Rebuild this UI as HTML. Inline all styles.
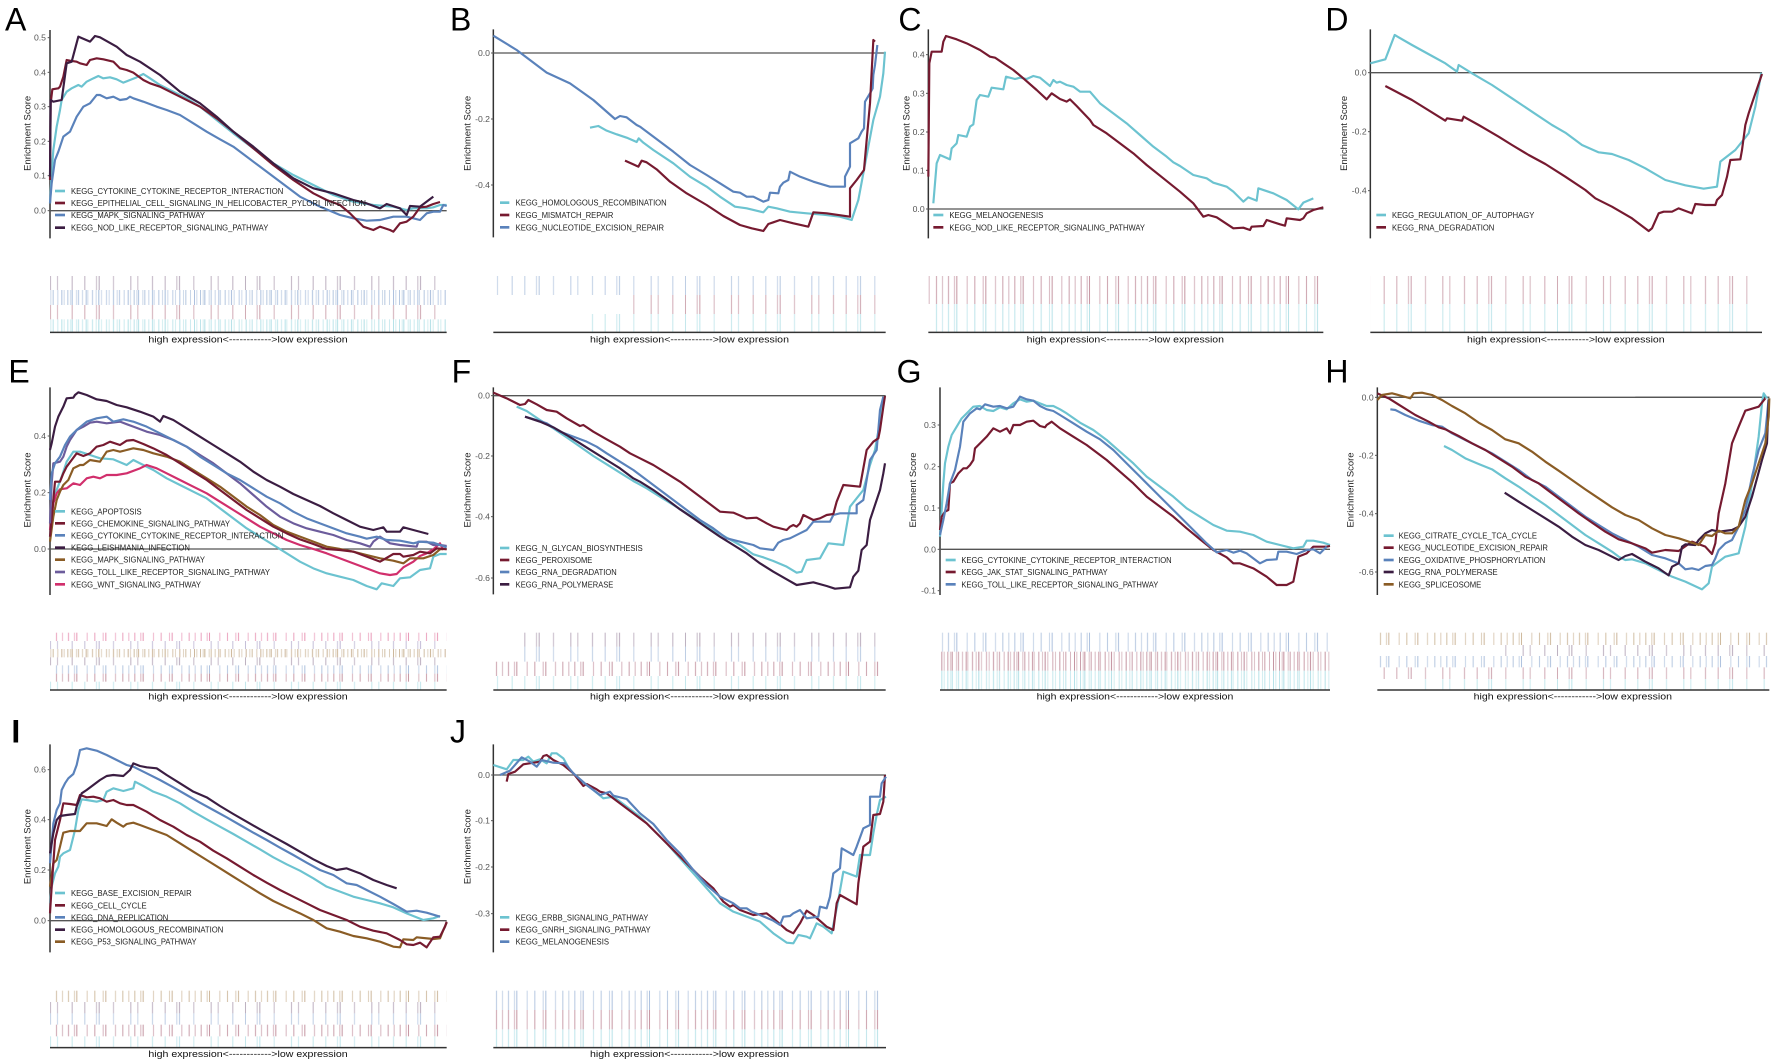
<!DOCTYPE html>
<html><head><meta charset="utf-8"><title>GSEA panels</title>
<style>
html,body{margin:0;padding:0;background:#fff;}
svg{display:block;}
.c{fill:none;stroke-width:6.5;stroke-linejoin:round;}
.ax{stroke:#333;stroke-width:4.5;fill:none;}
.zl{stroke:#555;stroke-width:4;fill:none;}
.tm{stroke:#555;stroke-width:3;}
.tk{font-family:"Liberation Sans",sans-serif;font-size:26px;fill:#555;text-anchor:end;}
.lg{font-family:"Liberation Sans",sans-serif;font-size:25px;fill:#222;}
.yl{font-family:"Liberation Sans",sans-serif;font-size:28px;fill:#222;text-anchor:middle;}
.xl{font-family:"Liberation Sans",sans-serif;font-size:28px;fill:#111;}
.pl{font-family:"Liberation Sans",sans-serif;font-size:96px;fill:#000;}
.sw{stroke-width:8;}
</style></head>
<body>
<svg width="1772" height="1061" viewBox="0 0 1772 1061" xmlns="http://www.w3.org/2000/svg" xmlns:xlink="http://www.w3.org/1999/xlink">
<defs>
<g id="tD" fill="currentColor">
<rect x="3" width="3" height="10" opacity=".45"/><rect x="11" width="3" height="10" opacity=".3"/><rect x="16" width="3" height="10" opacity=".55"/><rect x="29" width="3" height="10" opacity=".3"/><rect x="35" width="3" height="10" opacity=".45"/><rect x="47" width="3" height="10" opacity=".35"/><rect x="58" width="3" height="10" opacity=".5"/><rect x="63" width="3" height="10" opacity=".3"/><rect x="77" width="3" height="10" opacity=".45"/><rect x="88" width="3" height="10" opacity=".3"/><rect x="96" width="3" height="10" opacity=".55"/><rect x="104" width="3" height="10" opacity=".3"/><rect x="119" width="3" height="10" opacity=".4"/><rect x="127" width="3" height="10" opacity=".3"/><rect x="140" width="3" height="10" opacity=".5"/><rect x="151" width="3" height="10" opacity=".3"/><rect x="158" width="3" height="10" opacity=".45"/><rect x="172" width="3" height="10" opacity=".35"/><rect x="184" width="3" height="10" opacity=".5"/><rect x="191" width="3" height="10" opacity=".3"/>
</g>
<g id="tM" fill="currentColor">
<rect x="5" width="3" height="10" opacity=".45"/><rect x="23" width="3" height="10" opacity=".35"/><rect x="30" width="3" height="10" opacity=".5"/><rect x="61" width="3" height="10" opacity=".35"/><rect x="84" width="3" height="10" opacity=".45"/><rect x="109" width="3" height="10" opacity=".35"/><rect x="117" width="3" height="10" opacity=".5"/><rect x="146" width="3" height="10" opacity=".35"/><rect x="168" width="3" height="10" opacity=".45"/><rect x="186" width="3" height="10" opacity=".35"/>
</g>
<g id="tS" fill="currentColor">
<rect x="12" width="3" height="10" opacity=".4"/><rect x="47" width="3" height="10" opacity=".35"/><rect x="55" width="3" height="10" opacity=".45"/><rect x="98" width="3" height="10" opacity=".35"/><rect x="150" width="3" height="10" opacity=".4"/><rect x="171" width="3" height="10" opacity=".35"/><rect x="215" width="3" height="10" opacity=".4"/>
</g>
<pattern id="cyd" width="199" height="10" patternUnits="userSpaceOnUse" color="#6cc3d0"><use xlink:href="#tD" href="#tD"/></pattern>
<pattern id="cym" width="199" height="10" patternUnits="userSpaceOnUse" color="#6cc3d0"><use xlink:href="#tM" href="#tM"/></pattern>
<pattern id="cys" width="241" height="10" patternUnits="userSpaceOnUse" color="#6cc3d0"><use xlink:href="#tS" href="#tS"/></pattern>
<pattern id="rdd" width="199" height="10" patternUnits="userSpaceOnUse" color="#8a2a44"><use xlink:href="#tD" href="#tD"/></pattern>
<pattern id="rdm" width="199" height="10" patternUnits="userSpaceOnUse" color="#8a2a44"><use xlink:href="#tM" href="#tM"/></pattern>
<pattern id="rds" width="241" height="10" patternUnits="userSpaceOnUse" color="#8a2a44"><use xlink:href="#tS" href="#tS"/></pattern>
<pattern id="bld" width="199" height="10" patternUnits="userSpaceOnUse" color="#5a82bb"><use xlink:href="#tD" href="#tD"/></pattern>
<pattern id="blm" width="199" height="10" patternUnits="userSpaceOnUse" color="#5a82bb"><use xlink:href="#tM" href="#tM"/></pattern>
<pattern id="bls" width="241" height="10" patternUnits="userSpaceOnUse" color="#5a82bb"><use xlink:href="#tS" href="#tS"/></pattern>
<pattern id="dpm" width="199" height="10" patternUnits="userSpaceOnUse" color="#5b3a62"><use xlink:href="#tM" href="#tM"/></pattern>
<pattern id="dps" width="241" height="10" patternUnits="userSpaceOnUse" color="#5b3a62"><use xlink:href="#tS" href="#tS"/></pattern>
<pattern id="brm" width="199" height="10" patternUnits="userSpaceOnUse" color="#9a6e35"><use xlink:href="#tM" href="#tM"/></pattern>
<pattern id="brd" width="199" height="10" patternUnits="userSpaceOnUse" color="#9a6e35"><use xlink:href="#tD" href="#tD"/></pattern>
<pattern id="pus" width="241" height="10" patternUnits="userSpaceOnUse" color="#6c5c9c"><use xlink:href="#tS" href="#tS"/></pattern>
<pattern id="pkm" width="199" height="10" patternUnits="userSpaceOnUse" color="#d12f6c"><use xlink:href="#tM" href="#tM"/></pattern>
</defs>
<rect width="1772" height="1061" fill="#fff"/>

<!-- ================= A ================= -->
<g transform="translate(0 0) scale(0.333333)">
<text class="pl" x="15" y="92">A</text>
<rect x="150" y="828" width="1190" height="42" fill="url(#dps)"/>
<rect x="150" y="870" width="1190" height="45" fill="url(#bld)"/>
<rect x="150" y="915" width="1190" height="43" fill="url(#rds)"/>
<rect x="150" y="958" width="1190" height="39" fill="url(#cyd)"/>
<line class="ax" x1="150" y1="997" x2="1340" y2="997"/>
<text class="xl" x="445" y="1028" textLength="598" lengthAdjust="spacingAndGlyphs">high expression&lt;------------&gt;low expression</text>
<line class="ax" x1="150" y1="90" x2="150" y2="715"/>
<line class="zl" x1="150" y1="632" x2="1340" y2="632"/>
<g class="tm"><line x1="143" y1="113" x2="150" y2="113"/><line x1="143" y1="217" x2="150" y2="217"/><line x1="143" y1="320" x2="150" y2="320"/><line x1="143" y1="424" x2="150" y2="424"/><line x1="143" y1="527" x2="150" y2="527"/><line x1="143" y1="632" x2="150" y2="632"/></g>
<text class="tk" x="138" y="122">0.5</text><text class="tk" x="138" y="226">0.4</text><text class="tk" x="138" y="329">0.3</text><text class="tk" x="138" y="433">0.2</text><text class="tk" x="138" y="536">0.1</text><text class="tk" x="138" y="641">0.0</text>
<text class="yl" transform="translate(92 400) rotate(-90)" textLength="225" lengthAdjust="spacingAndGlyphs">Enrichment Score</text>
<polyline class="c" stroke="#6cc3d0" points="150,610 155,520 160,450 170,380 180,330 185,300 200,275 215,265 235,255 245,260 260,245 280,235 295,228 310,235 330,232 350,238 370,248 390,240 410,232 430,222 450,235 480,255 520,275 560,295 600,320 650,360 700,400 760,445 820,490 880,525 940,555 1000,585 1060,605 1120,615 1180,620 1220,630 1240,625 1280,625 1300,622 1320,615 1340,615"/>
<polyline class="c" stroke="#5a82bb" points="150,610 155,550 165,480 175,455 190,410 210,395 230,350 250,320 270,310 290,285 300,285 320,295 340,290 360,300 380,297 390,290 400,295 430,305 470,320 500,330 540,345 580,370 620,395 660,418 700,440 740,470 780,500 820,530 860,560 900,590 960,620 1020,645 1060,655 1100,662 1140,660 1180,650 1220,650 1260,660 1280,640 1300,635 1320,635 1330,615 1340,618"/>
<polyline class="c" stroke="#761a30" points="150,540 152,310 157,268 175,265 180,260 190,230 200,180 210,182 230,185 240,190 260,195 270,180 290,175 310,178 340,185 360,205 380,210 400,218 430,240 450,250 480,260 510,275 540,290 570,305 600,320 650,355 700,395 760,445 820,495 880,540 940,580 980,600 1020,615 1050,640 1090,680 1120,690 1140,680 1170,690 1180,695 1200,670 1220,665 1240,650 1260,622 1280,620 1300,612 1320,606"/>
<polyline class="c" stroke="#3b1d42" points="150,530 152,300 160,305 185,300 200,190 215,185 235,110 270,125 285,108 300,112 350,140 380,165 420,185 480,225 540,275 600,310 650,350 700,395 760,440 820,490 880,535 940,565 1000,580 1060,600 1100,610 1140,625 1160,612 1200,625 1220,645 1230,618 1260,620 1280,605 1300,590"/>
<g class="sw"><line x1="165" y1="573" x2="195" y2="573" stroke="#6cc3d0"/><line x1="165" y1="609" x2="195" y2="609" stroke="#761a30"/><line x1="165" y1="645" x2="195" y2="645" stroke="#5a82bb"/><line x1="165" y1="683" x2="195" y2="683" stroke="#3b1d42"/></g>
<text class="lg" x="213" y="582" textLength="637" lengthAdjust="spacingAndGlyphs">KEGG_CYTOKINE_CYTOKINE_RECEPTOR_INTERACTION</text>
<text class="lg" x="213" y="618" textLength="885" lengthAdjust="spacingAndGlyphs">KEGG_EPITHELIAL_CELL_SIGNALING_IN_HELICOBACTER_PYLORI_INFECTION</text>
<text class="lg" x="213" y="654" textLength="402" lengthAdjust="spacingAndGlyphs">KEGG_MAPK_SIGNALING_PATHWAY</text>
<text class="lg" x="213" y="692" textLength="592" lengthAdjust="spacingAndGlyphs">KEGG_NOD_LIKE_RECEPTOR_SIGNALING_PATHWAY</text>
</g>

<!-- ================= B ================= -->
<g transform="translate(440 0) scale(0.333333)">
<text class="pl" x="30" y="92">B</text>
<rect x="160" y="828" width="1177" height="57" fill="url(#bls)"/>
<rect x="550" y="885" width="787" height="57" fill="url(#rds)"/>
<rect x="445" y="942" width="892" height="55" fill="url(#cys)"/>
<line class="ax" x1="160" y1="997" x2="1337" y2="997"/>
<text class="xl" x="450" y="1028" textLength="597" lengthAdjust="spacingAndGlyphs">high expression&lt;------------&gt;low expression</text>
<line class="ax" x1="160" y1="88" x2="160" y2="712"/>
<line class="zl" x1="160" y1="159" x2="1337" y2="159"/>
<g class="tm"><line x1="153" y1="159" x2="160" y2="159"/><line x1="153" y1="357" x2="160" y2="357"/><line x1="153" y1="555" x2="160" y2="555"/></g>
<text class="tk" x="150" y="168">0.0</text><text class="tk" x="150" y="366">-0.2</text><text class="tk" x="150" y="564">-0.4</text>
<text class="yl" transform="translate(92 400) rotate(-90)" textLength="225" lengthAdjust="spacingAndGlyphs">Enrichment Score</text>
<polyline class="c" stroke="#5a82bb" points="160,107 230,150 320,218 390,250 460,300 525,357 540,348 560,352 590,375 600,380 640,410 700,455 750,495 800,525 840,550 880,575 900,578 920,590 940,590 970,605 985,600 990,578 1015,580 1020,560 1030,548 1045,540 1050,515 1080,530 1120,545 1170,560 1215,560 1215,530 1230,500 1230,430 1255,415 1265,395 1272,385 1275,305 1290,280 1298,265 1300,225 1305,195 1312,135"/>
<polyline class="c" stroke="#6cc3d0" points="450,383 475,378 500,392 530,403 560,413 590,426 596,415 610,428 640,450 700,490 750,530 800,560 840,590 885,620 920,625 970,637 985,620 1010,625 1050,635 1100,640 1150,644 1200,650 1235,660 1255,600 1270,520 1285,440 1300,360 1320,290 1330,220 1335,155"/>
<polyline class="c" stroke="#761a30" points="555,482 595,500 605,482 620,487 650,508 690,545 740,580 800,615 850,648 900,675 935,685 970,693 985,672 1000,667 1020,660 1060,670 1105,680 1120,637 1160,640 1230,650 1230,565 1250,540 1272,510 1280,420 1290,310 1300,120 1305,125"/>
<g class="sw"><line x1="180" y1="608" x2="208" y2="608" stroke="#6cc3d0"/><line x1="180" y1="645" x2="208" y2="645" stroke="#761a30"/><line x1="180" y1="682" x2="208" y2="682" stroke="#5a82bb"/></g>
<text class="lg" x="227" y="617" textLength="453" lengthAdjust="spacingAndGlyphs">KEGG_HOMOLOGOUS_RECOMBINATION</text>
<text class="lg" x="227" y="654" textLength="293" lengthAdjust="spacingAndGlyphs">KEGG_MISMATCH_REPAIR</text>
<text class="lg" x="227" y="691" textLength="445" lengthAdjust="spacingAndGlyphs">KEGG_NUCLEOTIDE_EXCISION_REPAIR</text>
</g>

<!-- ================= C ================= -->
<g transform="translate(880 0) scale(0.333333)">
<text class="pl" x="55" y="92">C</text>
<rect x="145" y="828" width="1185" height="84" fill="url(#rdm)"/>
<rect x="160" y="912" width="1170" height="85" fill="url(#cym)"/>
<line class="ax" x1="145" y1="997" x2="1330" y2="997"/>
<text class="xl" x="440" y="1028" textLength="592" lengthAdjust="spacingAndGlyphs">high expression&lt;------------&gt;low expression</text>
<line class="ax" x1="145" y1="88" x2="145" y2="715"/>
<line class="zl" x1="145" y1="627" x2="1330" y2="627"/>
<g class="tm"><line x1="138" y1="164" x2="145" y2="164"/><line x1="138" y1="280" x2="145" y2="280"/><line x1="138" y1="396" x2="145" y2="396"/><line x1="138" y1="511" x2="145" y2="511"/><line x1="138" y1="627" x2="145" y2="627"/></g>
<text class="tk" x="134" y="173">0.4</text><text class="tk" x="134" y="289">0.3</text><text class="tk" x="134" y="405">0.2</text><text class="tk" x="134" y="520">0.1</text><text class="tk" x="134" y="636">0.0</text>
<text class="yl" transform="translate(88 400) rotate(-90)" textLength="225" lengthAdjust="spacingAndGlyphs">Enrichment Score</text>
<polyline class="c" stroke="#6cc3d0" points="160,610 165,550 170,490 180,465 210,478 215,445 230,430 235,405 260,410 270,380 280,373 290,300 300,285 325,290 335,263 370,268 378,230 405,237 420,233 440,237 460,228 480,233 510,258 520,240 530,248 540,245 560,255 580,260 600,275 630,275 660,310 700,340 740,370 780,405 820,440 860,470 880,487 900,498 940,525 980,535 1000,548 1040,560 1060,575 1090,605 1105,592 1130,602 1135,565 1180,580 1220,600 1255,628 1270,608 1300,595"/>
<polyline class="c" stroke="#761a30" points="145,530 148,190 155,155 185,155 190,125 198,108 230,118 260,130 300,150 330,170 345,173 370,190 400,210 430,235 470,270 500,298 515,280 540,297 560,305 570,298 590,318 630,360 640,375 680,400 720,430 760,460 800,495 850,535 900,575 940,610 970,650 985,645 1010,652 1060,685 1090,683 1110,690 1115,680 1150,678 1160,660 1200,673 1215,677 1220,655 1260,660 1270,655 1280,640 1300,630 1330,622"/>
<g class="sw"><line x1="160" y1="645" x2="190" y2="645" stroke="#6cc3d0"/><line x1="160" y1="682" x2="190" y2="682" stroke="#761a30"/></g>
<text class="lg" x="208" y="654" textLength="282" lengthAdjust="spacingAndGlyphs">KEGG_MELANOGENESIS</text>
<text class="lg" x="208" y="691" textLength="587" lengthAdjust="spacingAndGlyphs">KEGG_NOD_LIKE_RECEPTOR_SIGNALING_PATHWAY</text>
</g>

<!-- ================= D ================= -->
<g transform="translate(1312 0) scale(0.333333)">
<text class="pl" x="40" y="92">D</text>
<rect x="175" y="828" width="1175" height="84" fill="url(#rds)"/>
<rect x="175" y="912" width="1175" height="85" fill="url(#cys)"/>
<line class="ax" x1="175" y1="997" x2="1350" y2="997"/>
<text class="xl" x="465" y="1028" textLength="593" lengthAdjust="spacingAndGlyphs">high expression&lt;------------&gt;low expression</text>
<line class="ax" x1="175" y1="88" x2="175" y2="715"/>
<line class="zl" x1="175" y1="218" x2="1350" y2="218"/>
<g class="tm"><line x1="168" y1="218" x2="175" y2="218"/><line x1="168" y1="395" x2="175" y2="395"/><line x1="168" y1="572" x2="175" y2="572"/></g>
<text class="tk" x="164" y="227">0.0</text><text class="tk" x="164" y="404">-0.2</text><text class="tk" x="164" y="581">-0.4</text>
<text class="yl" transform="translate(105 400) rotate(-90)" textLength="225" lengthAdjust="spacingAndGlyphs">Enrichment Score</text>
<polyline class="c" stroke="#6cc3d0" points="175,190 220,178 248,105 300,135 360,168 400,190 435,215 440,195 480,220 540,255 600,295 660,335 720,375 760,398 810,435 860,457 900,462 950,480 1000,505 1060,540 1120,556 1175,566 1215,560 1225,485 1270,450 1310,400 1330,320 1348,218"/>
<polyline class="c" stroke="#761a30" points="220,258 300,300 400,362 405,355 450,362 455,350 500,375 560,410 600,435 650,465 700,492 760,530 820,570 850,595 870,605 900,620 960,655 1010,693 1020,685 1040,640 1055,635 1080,635 1100,625 1140,640 1150,612 1180,615 1210,615 1215,600 1230,585 1245,530 1255,480 1285,478 1290,450 1300,375 1310,340 1320,310 1350,222"/>
<g class="sw"><line x1="193" y1="645" x2="222" y2="645" stroke="#6cc3d0"/><line x1="193" y1="682" x2="222" y2="682" stroke="#761a30"/></g>
<text class="lg" x="240" y="654" textLength="427" lengthAdjust="spacingAndGlyphs">KEGG_REGULATION_OF_AUTOPHAGY</text>
<text class="lg" x="240" y="691" textLength="307" lengthAdjust="spacingAndGlyphs">KEGG_RNA_DEGRADATION</text>
</g>

<!-- ================= E ================= -->
<g transform="translate(0 350) scale(0.333333)">
<text class="pl" x="25" y="97">E</text>
<rect x="150" y="848" width="1190" height="25" fill="url(#pkm)"/>
<rect x="150" y="873" width="1190" height="24" fill="url(#pus)"/>
<rect x="150" y="897" width="1190" height="25" fill="url(#brd)"/>
<rect x="150" y="922" width="1190" height="24" fill="url(#dps)"/>
<rect x="150" y="946" width="1190" height="25" fill="url(#blm)"/>
<rect x="150" y="971" width="1190" height="24" fill="url(#rdm)"/>
<rect x="150" y="995" width="1190" height="25" fill="url(#cys)"/>
<line class="ax" x1="150" y1="1020" x2="1340" y2="1020"/>
<text class="xl" x="445" y="1049" textLength="598" lengthAdjust="spacingAndGlyphs">high expression&lt;------------&gt;low expression</text>
<line class="ax" x1="150" y1="112" x2="150" y2="735"/>
<line class="zl" x1="150" y1="597" x2="1340" y2="597"/>
<g class="tm"><line x1="143" y1="258" x2="150" y2="258"/><line x1="143" y1="428" x2="150" y2="428"/><line x1="143" y1="597" x2="150" y2="597"/></g>
<text class="tk" x="138" y="267">0.4</text><text class="tk" x="138" y="437">0.2</text><text class="tk" x="138" y="606">0.0</text>
<text class="yl" transform="translate(92 420) rotate(-90)" textLength="225" lengthAdjust="spacingAndGlyphs">Enrichment Score</text>
<polyline class="c" stroke="#6cc3d0" points="150,560 160,450 170,420 185,380 200,335 220,305 240,305 270,315 300,325 340,328 380,345 400,330 430,345 460,360 500,385 540,405 580,425 620,445 660,475 700,505 740,535 780,560 820,585 860,610 900,635 940,655 980,670 1020,680 1060,690 1100,708 1130,718 1145,700 1180,708 1200,685 1230,682 1260,660 1290,655 1300,620 1320,612 1340,612"/>
<polyline class="c" stroke="#d12f6c" points="150,540 160,460 170,430 180,418 200,415 220,400 240,405 260,385 280,380 300,385 320,375 350,375 380,370 420,355 440,345 470,355 500,370 540,390 580,410 620,430 660,455 700,480 740,505 780,530 820,550 860,570 900,585 940,597 980,610 1020,625 1060,640 1100,655 1140,670 1170,675 1190,672 1210,652 1240,635 1260,618 1280,610 1300,598 1320,580 1330,600"/>
<polyline class="c" stroke="#8a5c25" points="150,575 160,500 170,450 180,425 190,405 205,390 220,355 240,345 250,345 270,330 300,335 320,305 340,300 360,305 380,300 400,295 430,300 460,310 500,320 540,335 580,360 620,385 660,410 700,440 740,470 780,495 820,525 860,545 900,560 940,575 980,590 1020,597 1060,605 1100,615 1140,625 1180,632 1210,640 1230,625 1270,625 1300,615 1320,598 1340,596"/>
<polyline class="c" stroke="#761a30" points="150,560 160,450 165,395 180,395 190,370 200,350 215,330 230,310 250,318 270,310 290,290 310,285 330,275 360,285 380,272 400,270 430,282 460,295 500,315 540,340 580,365 620,390 660,420 700,450 740,480 780,505 820,530 860,550 900,568 940,582 980,597 1020,600 1060,605 1100,620 1140,635 1180,612 1200,612 1210,620 1240,615 1260,605 1290,610 1310,595 1340,598"/>
<polyline class="c" stroke="#6c5c9c" points="150,520 155,400 160,340 180,335 190,320 200,290 210,270 230,240 250,230 270,218 290,215 320,220 360,215 400,230 440,245 480,255 520,270 560,290 600,315 640,340 680,370 720,400 760,435 800,470 840,500 880,520 920,535 960,545 1000,555 1040,570 1080,580 1110,590 1120,575 1140,560 1170,580 1200,585 1250,590 1255,575 1280,575 1300,585 1320,585 1340,588"/>
<polyline class="c" stroke="#5a82bb" points="150,450 155,370 165,340 180,320 195,285 210,260 230,240 260,215 290,205 320,200 340,215 370,208 400,215 440,230 480,250 520,270 560,290 600,320 640,345 680,370 720,390 760,415 800,440 840,460 880,485 920,505 960,520 1000,535 1040,550 1080,560 1100,566 1130,560 1160,570 1200,572 1240,580 1260,575 1300,578 1340,592"/>
<polyline class="c" stroke="#3b1d42" points="150,300 155,280 165,230 175,200 190,170 200,145 220,143 225,135 235,127 260,135 290,148 320,153 350,165 380,172 420,185 460,200 480,215 490,198 520,210 560,235 600,260 640,285 680,310 720,335 760,365 800,390 840,410 880,432 920,450 960,468 1000,490 1040,510 1080,530 1120,540 1150,532 1160,545 1200,545 1210,532 1240,540 1285,552"/>
<g class="sw"><line x1="165" y1="484" x2="195" y2="484" stroke="#6cc3d0"/><line x1="165" y1="520" x2="195" y2="520" stroke="#761a30"/><line x1="165" y1="556" x2="195" y2="556" stroke="#5a82bb"/><line x1="165" y1="593" x2="195" y2="593" stroke="#3b1d42"/><line x1="165" y1="629" x2="195" y2="629" stroke="#8a5c25"/><line x1="165" y1="666" x2="195" y2="666" stroke="#6c5c9c"/><line x1="165" y1="703" x2="195" y2="703" stroke="#d12f6c"/></g>
<text class="lg" x="213" y="493" textLength="212" lengthAdjust="spacingAndGlyphs">KEGG_APOPTOSIS</text>
<text class="lg" x="213" y="529" textLength="477" lengthAdjust="spacingAndGlyphs">KEGG_CHEMOKINE_SIGNALING_PATHWAY</text>
<text class="lg" x="213" y="565" textLength="637" lengthAdjust="spacingAndGlyphs">KEGG_CYTOKINE_CYTOKINE_RECEPTOR_INTERACTION</text>
<text class="lg" x="213" y="602" textLength="357" lengthAdjust="spacingAndGlyphs">KEGG_LEISHMANIA_INFECTION</text>
<text class="lg" x="213" y="638" textLength="402" lengthAdjust="spacingAndGlyphs">KEGG_MAPK_SIGNALING_PATHWAY</text>
<text class="lg" x="213" y="675" textLength="597" lengthAdjust="spacingAndGlyphs">KEGG_TOLL_LIKE_RECEPTOR_SIGNALING_PATHWAY</text>
<text class="lg" x="213" y="712" textLength="390" lengthAdjust="spacingAndGlyphs">KEGG_WNT_SIGNALING_PATHWAY</text>
</g>

<!-- ================= F ================= -->
<g transform="translate(440 350) scale(0.333333)">
<text class="pl" x="35" y="97">F</text>
<rect x="250" y="848" width="1087" height="42" fill="url(#dps)"/>
<rect x="250" y="890" width="1087" height="45" fill="url(#bls)"/>
<rect x="160" y="935" width="1177" height="43" fill="url(#rdm)"/>
<rect x="160" y="978" width="1177" height="42" fill="url(#cys)"/>
<line class="ax" x1="160" y1="1020" x2="1337" y2="1020"/>
<text class="xl" x="450" y="1049" textLength="597" lengthAdjust="spacingAndGlyphs">high expression&lt;------------&gt;low expression</text>
<line class="ax" x1="160" y1="112" x2="160" y2="733"/>
<line class="zl" x1="160" y1="137" x2="1337" y2="137"/>
<g class="tm"><line x1="153" y1="137" x2="160" y2="137"/><line x1="153" y1="318" x2="160" y2="318"/><line x1="153" y1="500" x2="160" y2="500"/><line x1="153" y1="684" x2="160" y2="684"/></g>
<text class="tk" x="150" y="146">0.0</text><text class="tk" x="150" y="327">-0.2</text><text class="tk" x="150" y="509">-0.4</text><text class="tk" x="150" y="693">-0.6</text>
<text class="yl" transform="translate(92 420) rotate(-90)" textLength="225" lengthAdjust="spacingAndGlyphs">Enrichment Score</text>
<polyline class="c" stroke="#6cc3d0" points="230,170 260,183 300,210 340,235 380,262 420,290 460,318 500,343 540,368 580,393 620,415 660,440 700,465 740,490 780,515 820,540 860,563 900,585 940,613 970,622 1000,633 1040,650 1070,668 1085,665 1100,630 1140,625 1165,580 1210,585 1230,470 1250,445 1270,420 1290,345 1305,300 1320,215 1330,140"/>
<polyline class="c" stroke="#5a82bb" points="255,200 290,210 320,220 360,245 400,260 440,275 470,290 500,310 540,335 580,360 620,390 660,420 700,450 740,480 780,510 820,535 860,565 900,575 940,585 960,595 1000,600 1015,578 1030,570 1050,565 1080,550 1100,540 1120,515 1170,515 1180,495 1200,490 1250,490 1250,465 1270,450 1290,330 1310,300 1320,180 1330,140"/>
<polyline class="c" stroke="#3b1d42" points="255,200 300,215 340,232 380,255 420,280 460,305 500,330 540,355 580,385 600,395 640,420 680,448 720,478 760,505 800,533 840,560 880,585 920,610 960,640 1000,665 1040,688 1070,705 1120,697 1160,708 1185,716 1230,712 1240,680 1255,662 1265,600 1280,585 1290,510 1300,480 1320,420 1330,370 1335,340"/>
<polyline class="c" stroke="#761a30" points="160,128 200,145 240,165 255,162 265,150 290,163 320,180 350,185 380,205 420,228 430,225 460,245 500,268 540,290 570,310 600,325 640,345 680,370 720,395 760,425 800,455 840,485 880,488 920,505 950,503 980,520 1000,530 1040,540 1050,530 1060,525 1070,530 1080,520 1090,495 1120,510 1140,505 1160,495 1180,492 1190,455 1210,405 1260,410 1280,300 1300,275 1315,265 1320,240 1330,170 1335,138"/>
<g class="sw"><line x1="180" y1="594" x2="208" y2="594" stroke="#6cc3d0"/><line x1="180" y1="630" x2="208" y2="630" stroke="#761a30"/><line x1="180" y1="666" x2="208" y2="666" stroke="#5a82bb"/><line x1="180" y1="703" x2="208" y2="703" stroke="#3b1d42"/></g>
<text class="lg" x="227" y="603" textLength="381" lengthAdjust="spacingAndGlyphs">KEGG_N_GLYCAN_BIOSYNTHESIS</text>
<text class="lg" x="227" y="639" textLength="230" lengthAdjust="spacingAndGlyphs">KEGG_PEROXISOME</text>
<text class="lg" x="227" y="675" textLength="303" lengthAdjust="spacingAndGlyphs">KEGG_RNA_DEGRADATION</text>
<text class="lg" x="227" y="712" textLength="293" lengthAdjust="spacingAndGlyphs">KEGG_RNA_POLYMERASE</text>
</g>

<!-- ================= G ================= -->
<g transform="translate(880 350) scale(0.333333)">
<text class="pl" x="50" y="97">G</text>
<rect x="180" y="848" width="1170" height="57" fill="url(#blm)"/>
<rect x="180" y="905" width="1170" height="57" fill="url(#rdd)"/>
<rect x="180" y="962" width="1170" height="58" fill="url(#cyd)"/>
<line class="ax" x1="180" y1="1020" x2="1350" y2="1020"/>
<text class="xl" x="470" y="1049" textLength="590" lengthAdjust="spacingAndGlyphs">high expression&lt;------------&gt;low expression</text>
<line class="ax" x1="180" y1="112" x2="180" y2="735"/>
<line class="zl" x1="180" y1="598" x2="1350" y2="598"/>
<g class="tm"><line x1="173" y1="225" x2="180" y2="225"/><line x1="173" y1="350" x2="180" y2="350"/><line x1="173" y1="474" x2="180" y2="474"/><line x1="173" y1="598" x2="180" y2="598"/><line x1="173" y1="722" x2="180" y2="722"/></g>
<text class="tk" x="168" y="234">0.3</text><text class="tk" x="168" y="359">0.2</text><text class="tk" x="168" y="483">0.1</text><text class="tk" x="168" y="607">0.0</text><text class="tk" x="168" y="731">-0.1</text>
<text class="yl" transform="translate(108 420) rotate(-90)" textLength="225" lengthAdjust="spacingAndGlyphs">Enrichment Score</text>
<polyline class="c" stroke="#6cc3d0" points="180,560 185,480 190,400 195,340 205,290 215,255 230,230 245,205 260,190 280,170 300,168 320,180 340,183 360,172 380,178 400,160 420,148 440,155 460,152 480,160 500,168 520,168 540,178 560,190 600,218 640,240 680,270 720,305 760,340 800,380 840,410 880,440 920,475 960,500 1000,525 1040,542 1080,545 1120,555 1160,575 1200,585 1240,595 1270,590 1280,572 1300,572 1330,578 1350,585"/>
<polyline class="c" stroke="#761a30" points="180,540 185,500 195,485 205,480 210,400 220,395 235,370 250,355 260,355 270,345 280,330 285,295 300,280 320,260 340,235 360,245 380,235 390,250 400,225 420,225 440,215 460,212 480,228 495,232 500,225 515,215 540,235 580,260 620,285 640,300 680,330 720,365 760,400 800,440 840,470 880,500 920,535 960,568 1000,600 1040,622 1060,640 1080,640 1120,655 1160,680 1190,705 1220,705 1240,695 1255,620 1280,610 1300,590 1340,590 1350,588"/>
<polyline class="c" stroke="#5a82bb" points="180,555 190,510 200,460 210,400 225,360 240,290 250,215 270,190 290,175 300,178 315,163 340,170 360,168 380,175 400,170 410,155 420,140 440,148 460,152 480,168 500,178 520,183 540,195 580,220 620,245 660,268 700,300 740,340 780,380 820,420 860,460 900,500 940,540 980,580 1010,607 1040,600 1060,608 1080,602 1100,610 1140,640 1160,630 1190,628 1195,605 1220,605 1250,612 1280,600 1300,598 1320,610 1340,590"/>
<g class="sw"><line x1="197" y1="630" x2="227" y2="630" stroke="#6cc3d0"/><line x1="197" y1="666" x2="227" y2="666" stroke="#761a30"/><line x1="197" y1="703" x2="227" y2="703" stroke="#5a82bb"/></g>
<text class="lg" x="244" y="639" textLength="631" lengthAdjust="spacingAndGlyphs">KEGG_CYTOKINE_CYTOKINE_RECEPTOR_INTERACTION</text>
<text class="lg" x="244" y="675" textLength="439" lengthAdjust="spacingAndGlyphs">KEGG_JAK_STAT_SIGNALING_PATHWAY</text>
<text class="lg" x="244" y="712" textLength="591" lengthAdjust="spacingAndGlyphs">KEGG_TOLL_LIKE_RECEPTOR_SIGNALING_PATHWAY</text>
</g>

<!-- ================= H ================= -->
<g transform="translate(1312 350) scale(0.333333)">
<text class="pl" x="40" y="97">H</text>
<rect x="196" y="848" width="1176" height="37" fill="url(#brm)"/>
<rect x="570" y="885" width="802" height="33" fill="url(#dps)"/>
<rect x="196" y="918" width="1176" height="34" fill="url(#blm)"/>
<rect x="196" y="952" width="1176" height="35" fill="url(#rds)"/>
<rect x="300" y="987" width="1072" height="33" fill="url(#cys)"/>
<line class="ax" x1="196" y1="1020" x2="1372" y2="1020"/>
<text class="xl" x="485" y="1049" textLength="595" lengthAdjust="spacingAndGlyphs">high expression&lt;------------&gt;low expression</text>
<line class="ax" x1="196" y1="112" x2="196" y2="735"/>
<line class="zl" x1="196" y1="142" x2="1372" y2="142" stroke="#999"/>
<line class="zl" x1="970" y1="142" x2="1372" y2="142"/>
<g class="tm"><line x1="189" y1="142" x2="196" y2="142"/><line x1="189" y1="316" x2="196" y2="316"/><line x1="189" y1="491" x2="196" y2="491"/><line x1="189" y1="666" x2="196" y2="666"/></g>
<text class="tk" x="185" y="151">0.0</text><text class="tk" x="185" y="325">-0.2</text><text class="tk" x="185" y="500">-0.4</text><text class="tk" x="185" y="675">-0.6</text>
<text class="yl" transform="translate(125 420) rotate(-90)" textLength="225" lengthAdjust="spacingAndGlyphs">Enrichment Score</text>
<polyline class="c" stroke="#6cc3d0" points="396,288 420,300 460,325 500,342 540,358 580,385 620,410 660,438 700,465 740,495 780,525 820,555 860,580 900,605 920,620 940,630 960,628 1000,640 1040,660 1080,680 1120,695 1170,718 1190,700 1200,650 1210,642 1240,620 1280,610 1300,530 1320,400 1340,260 1350,160 1355,130 1365,145"/>
<polyline class="c" stroke="#5a82bb" points="235,178 250,180 280,195 320,212 360,225 390,230 420,250 460,270 500,290 540,310 580,335 620,360 660,390 700,410 740,440 780,470 820,500 860,525 900,550 940,570 980,590 1020,615 1060,625 1100,640 1120,658 1140,655 1160,660 1180,648 1200,645 1210,625 1220,600 1240,580 1260,570 1280,530 1300,480 1320,380 1340,300 1360,250 1370,145"/>
<polyline class="c" stroke="#761a30" points="196,130 230,145 270,170 310,195 350,215 380,232 400,238 440,258 480,280 520,300 560,325 600,350 640,380 680,400 720,430 760,460 800,490 840,518 880,545 920,568 960,580 1000,595 1020,608 1060,600 1100,603 1140,575 1180,590 1200,612 1210,580 1220,490 1240,400 1260,280 1280,230 1300,182 1340,170 1360,145"/>
<polyline class="c" stroke="#3b1d42" points="578,428 620,455 660,480 700,505 740,530 780,560 820,585 860,600 880,610 920,630 940,618 960,612 1000,635 1040,655 1070,676 1080,650 1100,640 1110,590 1120,583 1150,585 1160,570 1180,550 1200,540 1220,545 1260,540 1280,530 1300,500 1320,440 1350,330 1365,280 1370,150"/>
<polyline class="c" stroke="#8a5c25" points="196,150 210,135 240,130 270,138 295,145 305,130 330,128 360,135 390,150 420,168 460,190 500,218 540,240 580,268 620,280 660,305 700,335 740,362 780,390 820,418 860,445 900,472 940,495 980,510 1020,535 1060,555 1100,565 1140,578 1160,585 1170,570 1180,555 1200,558 1220,542 1240,550 1260,550 1280,530 1290,490 1300,450 1320,400 1340,340 1360,280 1370,200 1372,145"/>
<g class="sw"><line x1="215" y1="557" x2="245" y2="557" stroke="#6cc3d0"/><line x1="215" y1="593" x2="245" y2="593" stroke="#761a30"/><line x1="215" y1="630" x2="245" y2="630" stroke="#5a82bb"/><line x1="215" y1="666" x2="245" y2="666" stroke="#3b1d42"/><line x1="215" y1="703" x2="245" y2="703" stroke="#8a5c25"/></g>
<text class="lg" x="260" y="566" textLength="415" lengthAdjust="spacingAndGlyphs">KEGG_CITRATE_CYCLE_TCA_CYCLE</text>
<text class="lg" x="260" y="602" textLength="448" lengthAdjust="spacingAndGlyphs">KEGG_NUCLEOTIDE_EXCISION_REPAIR</text>
<text class="lg" x="260" y="639" textLength="440" lengthAdjust="spacingAndGlyphs">KEGG_OXIDATIVE_PHOSPHORYLATION</text>
<text class="lg" x="260" y="675" textLength="297" lengthAdjust="spacingAndGlyphs">KEGG_RNA_POLYMERASE</text>
<text class="lg" x="260" y="712" textLength="248" lengthAdjust="spacingAndGlyphs">KEGG_SPLICEOSOME</text>
</g>

<!-- ================= I ================= -->
<g transform="translate(0 700) scale(0.333333)">
<text class="pl" x="34" y="127" style="font-weight:bold">I</text>
<rect x="150" y="872" width="1190" height="34" fill="url(#brm)"/>
<rect x="150" y="906" width="1190" height="34" fill="url(#dps)"/>
<rect x="150" y="940" width="1190" height="34" fill="url(#bls)"/>
<rect x="150" y="974" width="1190" height="35" fill="url(#rdm)"/>
<rect x="150" y="1009" width="1190" height="34" fill="url(#cys)"/>
<line class="ax" x1="150" y1="1043" x2="1340" y2="1043"/>
<text class="xl" x="445" y="1071" textLength="598" lengthAdjust="spacingAndGlyphs">high expression&lt;------------&gt;low expression</text>
<line class="ax" x1="150" y1="133" x2="150" y2="757"/>
<line class="zl" x1="150" y1="662" x2="1340" y2="662"/>
<g class="tm"><line x1="143" y1="209" x2="150" y2="209"/><line x1="143" y1="359" x2="150" y2="359"/><line x1="143" y1="510" x2="150" y2="510"/><line x1="143" y1="662" x2="150" y2="662"/></g>
<text class="tk" x="138" y="218">0.6</text><text class="tk" x="138" y="368">0.4</text><text class="tk" x="138" y="519">0.2</text><text class="tk" x="138" y="671">0.0</text>
<text class="yl" transform="translate(92 440) rotate(-90)" textLength="225" lengthAdjust="spacingAndGlyphs">Enrichment Score</text>
<polyline class="c" stroke="#6cc3d0" points="150,610 155,560 165,520 175,500 180,470 190,460 210,450 225,390 235,330 245,298 260,300 290,305 310,300 320,275 340,265 370,273 400,265 405,245 430,258 460,275 500,290 540,310 580,335 620,358 660,380 700,402 740,425 780,448 820,472 860,493 900,512 940,535 980,560 1020,575 1060,590 1100,600 1140,610 1180,622 1220,640 1270,660 1300,655 1320,648"/>
<polyline class="c" stroke="#8a5c25" points="150,560 160,490 170,480 180,440 190,398 210,393 240,393 260,370 290,370 320,378 335,358 350,368 370,380 380,372 400,368 420,375 460,390 500,405 540,430 580,455 620,480 660,505 700,530 740,555 780,580 820,603 860,622 900,640 940,660 980,685 1020,695 1060,708 1100,715 1140,725 1180,740 1200,742 1210,718 1240,720 1250,712 1300,717 1320,715 1330,690 1340,668"/>
<polyline class="c" stroke="#761a30" points="150,640 155,560 165,420 180,360 190,310 210,312 230,315 240,285 260,292 280,290 300,295 320,305 340,300 360,310 380,315 400,315 420,325 440,335 480,360 520,380 560,405 600,425 640,452 680,475 720,500 760,525 800,548 840,570 880,590 920,610 960,630 1000,645 1040,660 1080,680 1120,692 1160,700 1180,710 1200,720 1220,733 1240,735 1260,728 1280,742 1300,712 1320,710 1335,680 1340,665"/>
<polyline class="c" stroke="#5a82bb" points="150,490 155,430 160,370 170,330 180,310 185,270 195,250 205,235 220,222 230,195 240,150 260,145 290,152 320,165 350,180 380,195 400,200 440,220 480,240 520,262 560,285 600,308 640,330 680,352 720,375 760,398 800,420 840,443 880,465 920,488 960,510 1000,525 1040,550 1070,555 1100,570 1140,590 1180,612 1220,635 1250,632 1280,638 1320,650"/>
<polyline class="c" stroke="#3b1d42" points="150,460 160,400 170,360 180,348 200,345 225,342 230,320 245,280 260,270 280,255 300,240 320,228 340,225 370,228 390,210 400,190 420,198 440,202 470,205 500,225 540,250 580,275 620,292 660,318 700,342 740,365 780,388 820,410 860,432 900,455 940,478 980,498 1010,510 1040,505 1080,520 1120,540 1160,555 1190,565"/>
<g class="sw"><line x1="165" y1="579" x2="195" y2="579" stroke="#6cc3d0"/><line x1="165" y1="616" x2="195" y2="616" stroke="#761a30"/><line x1="165" y1="652" x2="195" y2="652" stroke="#5a82bb"/><line x1="165" y1="689" x2="195" y2="689" stroke="#3b1d42"/><line x1="165" y1="725" x2="195" y2="725" stroke="#8a5c25"/></g>
<text class="lg" x="213" y="588" textLength="362" lengthAdjust="spacingAndGlyphs">KEGG_BASE_EXCISION_REPAIR</text>
<text class="lg" x="213" y="625" textLength="227" lengthAdjust="spacingAndGlyphs">KEGG_CELL_CYCLE</text>
<text class="lg" x="213" y="661" textLength="292" lengthAdjust="spacingAndGlyphs">KEGG_DNA_REPLICATION</text>
<text class="lg" x="213" y="698" textLength="457" lengthAdjust="spacingAndGlyphs">KEGG_HOMOLOGOUS_RECOMBINATION</text>
<text class="lg" x="213" y="734" textLength="377" lengthAdjust="spacingAndGlyphs">KEGG_P53_SIGNALING_PATHWAY</text>
</g>

<!-- ================= J ================= -->
<g transform="translate(440 700) scale(0.333333)">
<text class="pl" x="30" y="127">J</text>
<rect x="160" y="872" width="1178" height="58" fill="url(#blm)"/>
<rect x="160" y="930" width="1178" height="58" fill="url(#rdm)"/>
<rect x="160" y="988" width="1178" height="55" fill="url(#cym)"/>
<line class="ax" x1="160" y1="1043" x2="1338" y2="1043"/>
<text class="xl" x="450" y="1071" textLength="597" lengthAdjust="spacingAndGlyphs">high expression&lt;------------&gt;low expression</text>
<line class="ax" x1="160" y1="133" x2="160" y2="757"/>
<line class="zl" x1="160" y1="225" x2="1338" y2="225"/>
<g class="tm"><line x1="153" y1="225" x2="160" y2="225"/><line x1="153" y1="362" x2="160" y2="362"/><line x1="153" y1="501" x2="160" y2="501"/><line x1="153" y1="641" x2="160" y2="641"/></g>
<text class="tk" x="150" y="234">0.0</text><text class="tk" x="150" y="371">-0.1</text><text class="tk" x="150" y="510">-0.2</text><text class="tk" x="150" y="650">-0.3</text>
<text class="yl" transform="translate(92 440) rotate(-90)" textLength="225" lengthAdjust="spacingAndGlyphs">Enrichment Score</text>
<polyline class="c" stroke="#6cc3d0" points="160,195 200,208 220,180 250,180 265,170 280,185 300,178 320,190 335,160 350,160 370,175 390,210 420,240 460,270 490,295 520,290 560,320 600,350 640,390 680,430 720,475 760,520 800,565 840,610 880,635 920,650 960,665 1000,700 1040,728 1060,730 1075,705 1100,710 1110,715 1130,670 1150,680 1175,700 1195,600 1210,515 1250,530 1260,465 1290,465 1300,400 1310,345 1320,300 1338,290"/>
<polyline class="c" stroke="#761a30" points="200,245 205,222 225,215 250,193 300,185 310,168 320,165 340,180 370,195 400,220 430,258 440,252 470,268 480,275 500,280 540,310 580,340 620,370 660,410 700,450 740,490 780,530 820,565 850,605 870,620 880,615 900,630 940,645 980,640 1000,655 1040,690 1060,700 1080,670 1100,632 1120,645 1160,680 1180,690 1190,610 1200,585 1250,613 1255,550 1270,440 1290,425 1300,345 1320,342 1330,305 1335,225"/>
<polyline class="c" stroke="#5a82bb" points="180,225 210,212 245,172 270,185 290,200 305,180 340,188 375,190 400,220 440,255 480,285 510,275 520,287 560,297 600,340 640,372 680,420 720,460 760,510 800,555 840,590 880,610 900,625 920,625 935,635 960,645 1000,662 1020,675 1030,650 1050,648 1060,640 1080,630 1100,655 1135,650 1140,620 1160,625 1170,590 1180,520 1200,505 1205,445 1240,465 1250,440 1270,385 1290,375 1290,290 1320,290 1325,250 1338,230"/>
<g class="sw"><line x1="180" y1="652" x2="208" y2="652" stroke="#6cc3d0"/><line x1="180" y1="689" x2="208" y2="689" stroke="#761a30"/><line x1="180" y1="725" x2="208" y2="725" stroke="#5a82bb"/></g>
<text class="lg" x="227" y="661" textLength="398" lengthAdjust="spacingAndGlyphs">KEGG_ERBB_SIGNALING_PATHWAY</text>
<text class="lg" x="227" y="698" textLength="405" lengthAdjust="spacingAndGlyphs">KEGG_GNRH_SIGNALING_PATHWAY</text>
<text class="lg" x="227" y="734" textLength="280" lengthAdjust="spacingAndGlyphs">KEGG_MELANOGENESIS</text>
</g>
</svg>
</body></html>
